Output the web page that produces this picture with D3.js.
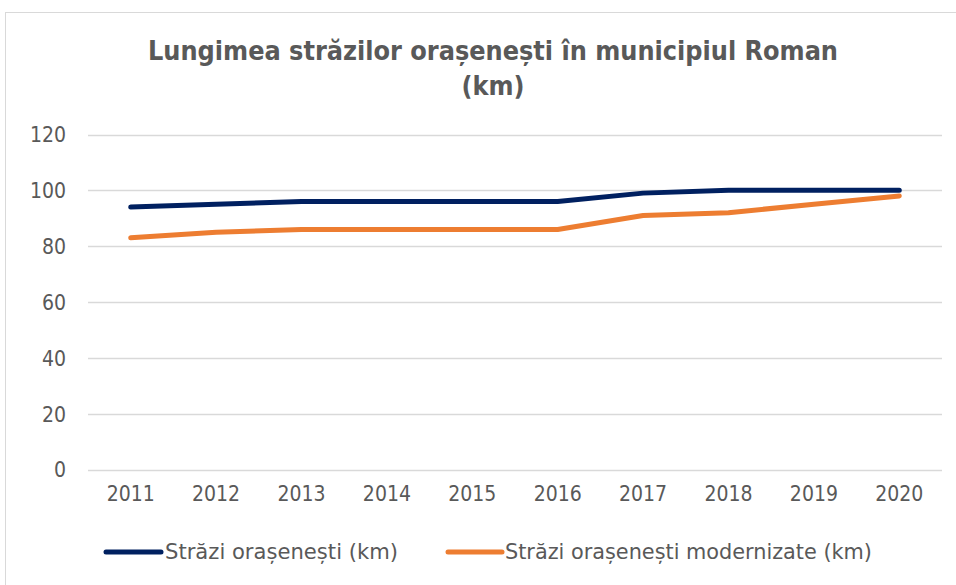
<!DOCTYPE html>
<html>
<head>
<meta charset="utf-8">
<script src="https://cdn.jsdelivr.net/npm/d3@7/dist/d3.min.js"></script>
<style>
  html, body { margin: 0; padding: 0; background: #fff; }
  svg { display: block; }
  text { font-family: "DejaVu Sans Condensed", "DejaVu Sans", sans-serif; }
</style>
</head>
<body>
<svg id="chart" width="956" height="585"></svg>
<script>
// Street length (km) in Roman municipality, 2011–2020
const years = ["2011", "2012", "2013", "2014", "2015", "2016", "2017", "2018", "2019", "2020"];
const strazi = [94, 95, 96, 96, 96, 96, 99, 100, 100, 100];
const straziModernizate = [83, 85, 86, 86, 86, 86, 91, 92, 95, 98];
const yTicks = [0, 20, 40, 60, 80, 100, 120];
const seriesNames = ["Străzi orașenești (km)", "Străzi orașenești modernizate (km)"];
const seriesColors = ["#002060", "#ED7D31"];
const titleLines = ["Lungimea străzilor orașenești în municipiul Roman", "(km)"];

const svg = d3.select("#chart");

// outer chart frame
svg.append("rect")
  .attr("x", 5.5).attr("y", 12.5)
  .attr("width", 1000).attr("height", 1000)
  .attr("fill", "#fff").attr("stroke", "#d9d9d9").attr("stroke-width", 1);

const plot = { left: 88, right: 942, top: 134.5, bottom: 469.5 };

const x = d3.scaleBand().domain(years).range([plot.left, plot.right]);
const y = d3.scaleLinear().domain([0, 120]).range([plot.bottom, plot.top]);

// gridlines
svg.append("g")
  .selectAll("line")
  .data(yTicks)
  .join("line")
  .attr("x1", plot.left).attr("x2", plot.right)
  .attr("y1", d => Math.round(y(d)) + 0.5).attr("y2", d => Math.round(y(d)) + 0.5)
  .attr("stroke", "#d9d9d9").attr("stroke-width", 1.5);

// y axis labels
const yAxis = d3.axisLeft(y).tickValues(yTicks).tickSize(0).tickPadding(0);
const yg = svg.append("g").attr("transform", `translate(66,0)`).call(yAxis);
yg.select(".domain").remove();
yg.selectAll("text")
  .attr("fill", "#595959").attr("font-size", 21)
  .attr("dy", "0.35em");

// x axis labels
const xAxis = d3.axisBottom(x).tickSize(0).tickPadding(0);
const xg = svg.append("g").attr("transform", `translate(0,${plot.bottom + 17})`).call(xAxis);
xg.select(".domain").remove();
xg.selectAll("text")
  .attr("fill", "#595959").attr("font-size", 21)
  .attr("dy", "0.7em");

// lines
const line = d3.line()
  .x((d, i) => x(years[i]) + x.bandwidth() / 2)
  .y(d => y(d));

[strazi, straziModernizate].forEach((vals, k) => {
  svg.append("path")
    .datum(vals)
    .attr("d", line)
    .attr("fill", "none")
    .attr("stroke", seriesColors[k])
    .attr("stroke-width", 5)
    .attr("stroke-linecap", "round")
    .attr("stroke-linejoin", "round");
});

// title
const titleWidths = [690, 63];
svg.append("text")
  .attr("text-anchor", "middle")
  .attr("fill", "#595959")
  .attr("font-size", 26.5)
  .attr("font-weight", "bold")
  .selectAll("tspan")
  .data(titleLines)
  .join("tspan")
  .attr("x", 493)
  .attr("y", (d, i) => 60 + i * 35)
  .attr("textLength", (d, i) => titleWidths[i])
  .attr("lengthAdjust", "spacingAndGlyphs")
  .text(d => d);

// legend
const legendItems = [
  { x0: 106, x1: 161, tx: 165, w: 233 },
  { x0: 448, x1: 502, tx: 505, w: 367 }
];
const lg = svg.append("g");
legendItems.forEach((it, k) => {
  lg.append("line")
    .attr("x1", it.x0).attr("x2", it.x1)
    .attr("y1", 552).attr("y2", 552)
    .attr("stroke", seriesColors[k])
    .attr("stroke-width", 5)
    .attr("stroke-linecap", "round");
  lg.append("text")
    .attr("x", it.tx).attr("y", 552)
    .attr("dy", "0.35em")
    .attr("fill", "#595959")
    .attr("font-size", 21)
    .attr("textLength", it.w)
    .attr("lengthAdjust", "spacingAndGlyphs")
    .text(seriesNames[k]);
});
</script>
</body>
</html>
